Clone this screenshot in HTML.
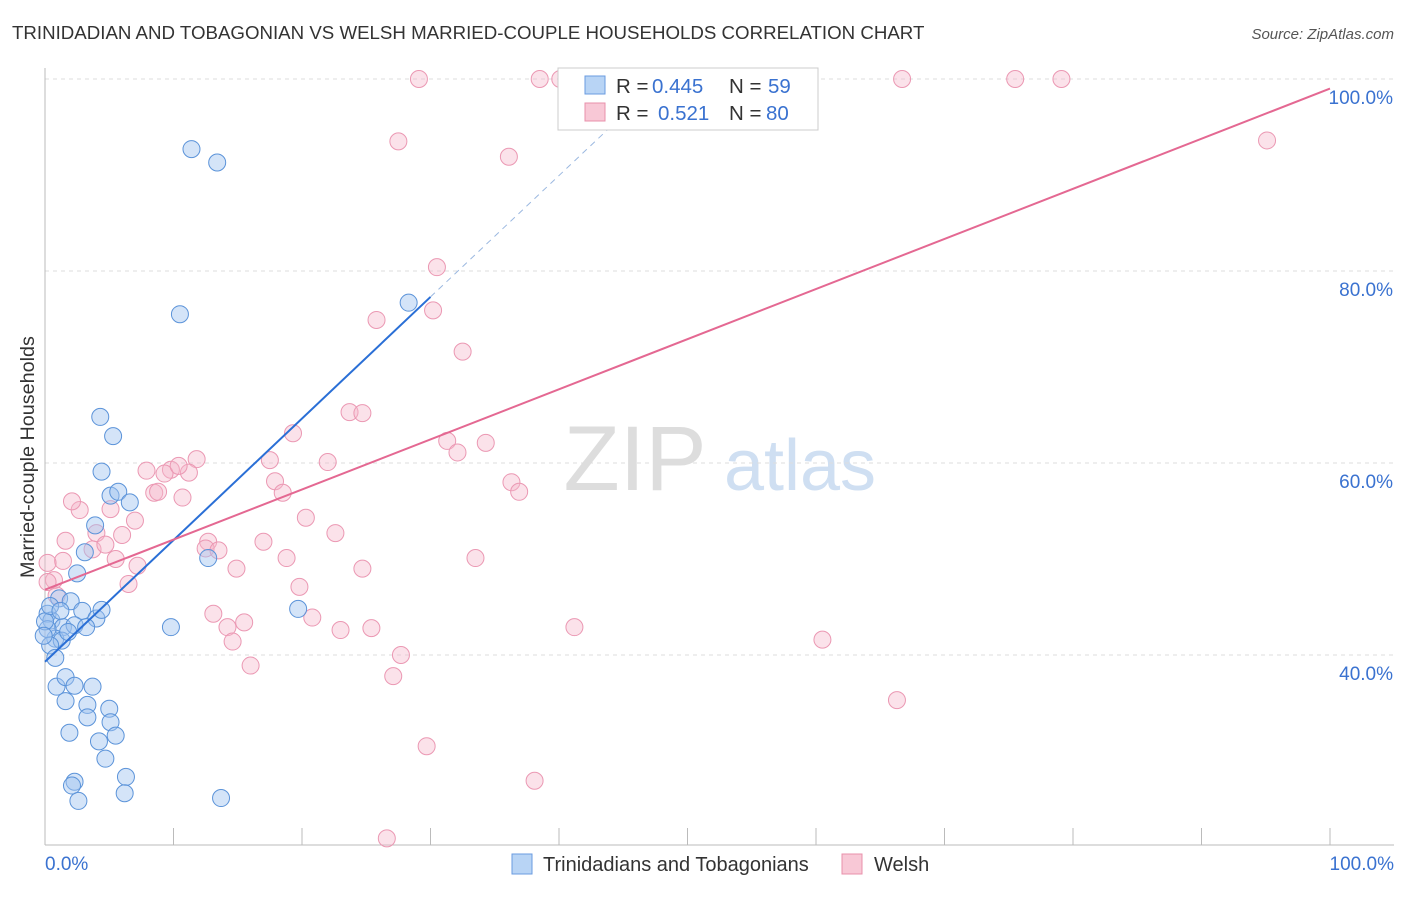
<!DOCTYPE html>
<html><head><meta charset="utf-8"><style>
body{margin:0;background:#fff;font-family:"Liberation Sans",sans-serif;}
svg text{font-family:"Liberation Sans",sans-serif;}
</style></head><body>
<svg id="c" width="1406" height="892">
<text x="12" y="39" font-size="18.7" fill="#333">TRINIDADIAN AND TOBAGONIAN VS WELSH MARRIED-COUPLE HOUSEHOLDS CORRELATION CHART</text>
<text x="1394" y="39" font-size="15" fill="#555" font-style="italic" text-anchor="end">Source: ZipAtlas.com</text>
<text x="34" y="457" font-size="19.8" fill="#333" text-anchor="middle" transform="rotate(-90 34 457)">Married-couple Households</text>
<g><text x="635" y="490" font-size="92" fill="#ddd" text-anchor="middle" font-family="Liberation Serif">ZIP</text><text x="800" y="490" font-size="72" fill="#cfdff2" text-anchor="middle">atlas</text></g>
<g id="grid"></g><g id="axes"></g><g id="pts"></g><g id="lines"></g>
<g>
<rect x="558" y="68" width="260" height="62" fill="#fff" stroke="#ccc"/>
<rect x="585" y="76" width="20" height="18" fill="#b8d4f5" stroke="#6a9be0"/>
<text x="616" y="93" font-size="20.5" fill="#333">R =</text><text x="652" y="93" font-size="20.5" fill="#3a72d0">0.445</text>
<text x="729" y="93" font-size="20.5" fill="#333">N =</text><text x="768" y="93" font-size="20.5" fill="#3a72d0">59</text>
<rect x="585" y="103" width="20" height="18" fill="#f8c8d6" stroke="#e890ab"/>
<text x="616" y="120" font-size="20.5" fill="#333">R =</text><text x="658" y="120" font-size="20.5" fill="#3a72d0">0.521</text>
<text x="729" y="120" font-size="20.5" fill="#333">N =</text><text x="766" y="120" font-size="20.5" fill="#3a72d0">80</text>
</g>
<g>
<rect x="512" y="854" width="20" height="20" fill="#b8d4f5" stroke="#6a9be0"/><text x="543" y="871" font-size="20" fill="#333">Trinidadians and Tobagonians</text>
<rect x="842" y="854" width="20" height="20" fill="#f8c8d6" stroke="#e890ab"/><text x="874" y="871" font-size="20" fill="#333">Welsh</text>
</g>
<text x="45" y="870" font-size="19" fill="#3a72d0">0.0%</text>
<text x="1394" y="870" font-size="19" fill="#3a72d0" text-anchor="end">100.0%</text>
</svg>
<script>
const yTicks=[40,60,80,100];
const blueX=[11.4,13.4,10.5,28.3,4.3,5.3,4.4,5.1,5.7,6.6,3.9,3.1,2.5,1.1,2.0,0.2,0.5,2.9,4.0,4.4,1.4,2.3,3.2,0.8,1.3,0.2,0.4,0.8,9.8,12.7,19.7,0.9,1.6,2.3,3.7,1.6,3.3,5.0,3.3,5.1,1.9,5.5,4.2,4.7,6.3,2.3,2.1,6.2,2.6,13.7,0.0,0.4,1.2,-0.1,1.8];
const blueY=[92.7,91.3,75.5,76.7,64.8,62.8,59.1,56.6,57.0,55.9,53.5,50.7,48.5,45.9,45.6,44.3,43.6,44.6,43.8,44.7,42.9,43.1,42.9,41.7,41.5,42.7,41.0,39.7,42.9,50.1,44.8,36.7,37.7,36.8,36.7,35.2,34.8,34.4,33.5,33.0,31.9,31.6,31.0,29.2,27.3,26.8,26.4,25.6,24.8,25.1,43.5,45.1,44.6,42.0,42.4];
const pinkX=[29.1,38.5,40.1,47.6,54.1,66.7,75.5,79.1,95.1,27.5,36.1,30.5,30.2,25.8,32.5,23.7,24.7,19.3,31.3,32.1,34.3,7.9,9.8,11.8,17.5,22.0,9.3,11.2,10.4,8.5,8.8,10.7,17.9,18.5,20.3,36.3,36.9,7.0,2.7,2.1,5.1,4.0,6.0,1.6,1.4,3.7,5.5,4.7,7.2,12.7,12.5,13.5,17.0,22.6,14.9,18.8,33.5,24.7,0.7,0.9,6.5,19.8,13.1,15.5,14.2,14.6,20.8,23.0,25.4,41.2,60.5,27.7,16.0,27.1,66.3,29.7,38.1,26.6,0.2,0.2];
const pinkY=[100,100,100,100,100,100,100,100,93.6,93.5,91.9,80.4,75.9,74.9,71.6,65.3,65.2,63.1,62.3,61.1,62.1,59.2,59.3,60.4,60.3,60.1,58.9,59.0,59.7,56.9,57.0,56.4,58.1,56.9,54.3,58.0,57.0,54.0,55.1,56.0,55.2,52.7,52.5,51.9,49.8,51.0,50.0,51.5,49.3,51.8,51.1,50.9,51.8,52.7,49.0,50.1,50.1,49.0,47.8,46.2,47.4,47.1,44.3,43.4,42.9,41.4,43.9,42.6,42.8,42.9,41.6,40.0,38.9,37.8,35.3,30.5,26.9,20.9,49.6,47.6];
const blueLine=[0,39.3,30,77.3,44,95];
const pinkLine=[0,46.8,100,99.0];
const X=v=>45+v*12.85, Y=v=>1039-v*9.6;
const NS='http://www.w3.org/2000/svg';
function mk(p,t,a){const e=document.createElementNS(NS,t);for(const k in a)e.setAttribute(k,a[k]);document.getElementById(p).appendChild(e);return e;}
yTicks.forEach(t=>{
 const l=mk('grid','line',{x1:45,x2:1394,y1:Y(t),y2:Y(t),stroke:'#ddd','stroke-dasharray':'4,4'});
 
 
 const tx=mk('grid','text',{x:1393,y:Y(t)+25,'font-size':19,fill:'#3a72d0','text-anchor':'end'});
 tx.textContent=t.toFixed(1)+'%';
 
 
});
const ax=mk('axes','line',{x1:45,x2:45,y1:68,y2:845,stroke:'#bbb'});


const bx=mk('axes','line',{x1:45,x2:1394,y1:845,y2:845,stroke:'#bbb'});


for(let i=0;i<=10;i++){const t=mk('axes','line',{x1:X(i*10),x2:X(i*10),y1:828,y2:845,stroke:'#bbb'});
 
 }
pinkX.forEach((v,i)=>{const c=mk('pts','circle',{cx:X(v),cy:Y(pinkY[i]),r:8.5,fill:'rgba(246,182,202,0.4)',stroke:'#eb98b3','stroke-width':1});
 
 });
blueX.forEach((v,i)=>{const c=mk('pts','circle',{cx:X(v),cy:Y(blueY[i]),r:8.5,fill:'rgba(160,196,240,0.45)',stroke:'#5b93d9','stroke-width':1});
 
 });
const bl=mk('lines','line',{x1:X(blueLine[0]),y1:Y(blueLine[1]),x2:X(blueLine[2]),y2:Y(blueLine[3]),stroke:'#2a6fd6','stroke-width':2});


const bd=mk('lines','line',{x1:X(blueLine[2]),y1:Y(blueLine[3]),x2:X(blueLine[4]),y2:Y(blueLine[5]),stroke:'#9bb8e0','stroke-width':1,'stroke-dasharray':'6,5'});


const pl=mk('lines','line',{x1:X(pinkLine[0]),y1:Y(pinkLine[1]),x2:X(pinkLine[2]),y2:Y(pinkLine[3]),stroke:'#e46892','stroke-width':2});


</script>
</body></html>
